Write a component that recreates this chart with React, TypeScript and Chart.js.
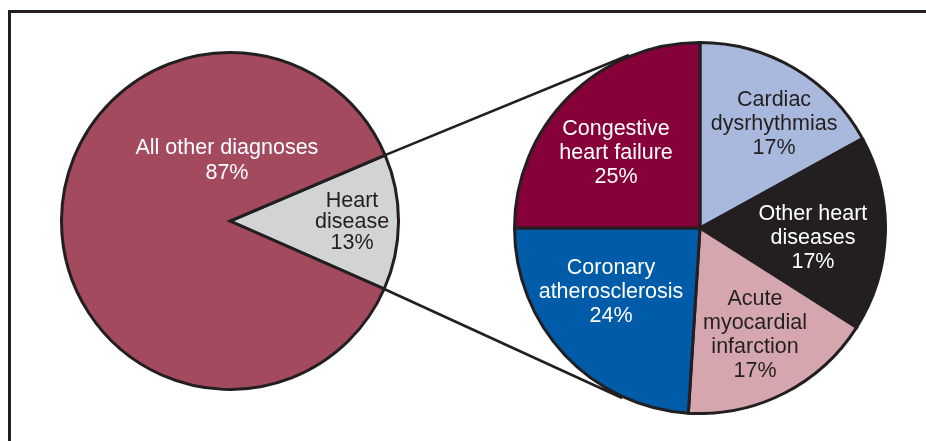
import React, { useEffect, useRef } from "react";
import { Chart, registerables } from "chart.js";

Chart.register(...registerables);

// ---- data ----
const leftCategories = ["Heart disease", "All other diagnoses"];
const leftValues = [13, 87];
const leftLabelLines = [["Heart", "disease"], ["All other diagnoses"]];

const rightCategories = [
  "Cardiac dysrhythmias",
  "Other heart diseases",
  "Acute myocardial infarction",
  "Coronary atherosclerosis",
  "Congestive heart failure",
];
const rightValues = [17, 17, 17, 24, 25];
const rightLabelLines = [
  ["Cardiac", "dysrhythmias"],
  ["Other heart", "diseases"],
  ["Acute", "myocardial", "infarction"],
  ["Coronary", "atherosclerosis"],
  ["Congestive", "heart failure"],
];

// ---- styles ----
const INK = "#231f20";
const leftColors = ["#d1d3d5", "#a34a5f"];
const leftTextColors = [INK, "#ffffff"];
const rightColors = ["#a9b9de", "#231f20", "#d6a6ae", "#005ba9", "#86003a"];
const rightTextColors = [INK, "#ffffff", INK, "#ffffff", "#ffffff"];
// label anchor offsets as fractions of the pie radius, plus line height
const leftLabelPlace = [
  { dx: 0.718, dy: 0.006, lh: 21 },
  { dx: -0.018, dy: -0.353, lh: 25 },
];
const rightLabelPlace = [
  { dx: 0.396, dy: -0.556, lh: 24 },
  { dx: 0.604, dy: 0.053, lh: 24 },
  { dx: 0.294, dy: 0.572, lh: 24 },
  { dx: -0.476, dy: 0.342, lh: 24 },
  { dx: -0.449, dy: -0.401, lh: 24 },
];
const FONT = '21.5px "Liberation Sans", Arial, Helvetica, sans-serif';
const BW = 3;

const LEFT_BOX = { x: 60, y: 51, size: 340 };
const RIGHT_BOX = { x: 513, y: 41, size: 374 };

function labelPlugin(lines: string[][], values: number[], place: any[], colors: string[]) {
  return {
    id: "sliceLabels",
    afterDatasetsDraw(chart: any) {
      const ctx = chart.ctx;
      const meta = chart.getDatasetMeta(0);
      ctx.save();
      ctx.font = FONT;
      ctx.textAlign = "center";
      ctx.textBaseline = "middle";
      meta.data.forEach((arc: any, i: number) => {
        const R = arc.outerRadius + BW / 2;
        const cx = arc.x + place[i].dx * R;
        const cy = arc.y + place[i].dy * R;
        const all = [...lines[i], values[i] + "%"];
        const lh = place[i].lh;
        const top = cy - ((all.length - 1) * lh) / 2;
        ctx.fillStyle = colors[i];
        all.forEach((t, k) => ctx.fillText(t, cx, top + k * lh));
      });
      ctx.restore();
    },
  };
}

function pieConfig(labels: string[], values: number[], colors: string[], rotation: number, plugin: any): any {
  return {
    type: "pie",
    data: {
      labels,
      datasets: [
        {
          data: values,
          backgroundColor: colors,
          borderColor: INK,
          borderWidth: BW,
          borderJoinStyle: "miter",
        },
      ],
    },
    options: {
      responsive: false,
      maintainAspectRatio: false,
      animation: false,
      events: [],
      rotation,
      layout: { padding: 0 },
      plugins: { legend: { display: false }, tooltip: { enabled: false } },
    },
    plugins: [plugin],
  };
}

function tangentPoint(px: number, py: number, cx: number, cy: number, r: number, sign: number) {
  const d = Math.hypot(px - cx, py - cy);
  const base = Math.atan2(py - cy, px - cx);
  const a = base + sign * Math.acos(Math.min(1, r / d));
  return { x: cx + r * Math.cos(a), y: cy + r * Math.sin(a) };
}

export default function App() {
  const leftRef = useRef<HTMLCanvasElement>(null);
  const rightRef = useRef<HTMLCanvasElement>(null);
  const overlayRef = useRef<HTMLCanvasElement>(null);

  useEffect(() => {
    const left = new Chart(
      leftRef.current!,
      pieConfig(leftCategories, leftValues, leftColors, 67, labelPlugin(leftLabelLines, leftValues, leftLabelPlace, leftTextColors))
    );
    const right = new Chart(
      rightRef.current!,
      pieConfig(rightCategories, rightValues, rightColors, 0, labelPlugin(rightLabelLines, rightValues, rightLabelPlace, rightTextColors))
    );

    const ov = overlayRef.current!;
    const ctx = ov.getContext("2d")!;
    ctx.clearRect(0, 0, ov.width, ov.height);
    const heart: any = left.getDatasetMeta(0).data[0];
    const lcx = LEFT_BOX.x + heart.x;
    const lcy = LEFT_BOX.y + heart.y;
    const lr = heart.outerRadius;
    const anyRight: any = right.getDatasetMeta(0).data[0];
    const rcx = RIGHT_BOX.x + anyRight.x;
    const rcy = RIGHT_BOX.y + anyRight.y;
    const rr = anyRight.outerRadius + BW / 2;
    const p1 = { x: lcx + lr * Math.cos(heart.startAngle), y: lcy + lr * Math.sin(heart.startAngle) };
    const p2 = { x: lcx + lr * Math.cos(heart.endAngle), y: lcy + lr * Math.sin(heart.endAngle) };
    const t1 = tangentPoint(p1.x, p1.y, rcx, rcy, rr, 1);
    const t2 = tangentPoint(p2.x, p2.y, rcx, rcy, rr, -1);
    ctx.strokeStyle = INK;
    ctx.lineWidth = 2.6;
    ctx.lineCap = "butt";
    ctx.beginPath();
    ctx.moveTo(p1.x, p1.y);
    ctx.lineTo(t1.x, t1.y);
    ctx.moveTo(p2.x, p2.y);
    ctx.lineTo(t2.x, t2.y);
    ctx.stroke();

    return () => {
      left.destroy();
      right.destroy();
    };
  }, []);

  return (
    <div
      style={{
        position: "fixed",
        left: 0,
        top: 0,
        width: 926,
        height: 441,
        overflow: "hidden",
        background: "#ffffff",
      }}
    >
      <div
        style={{
          position: "absolute",
          left: 8,
          top: 10,
          width: 2000,
          height: 2000,
          borderLeft: "3px solid " + INK,
          borderTop: "3px solid " + INK,
        }}
      />
      <canvas
        ref={leftRef}
        width={LEFT_BOX.size}
        height={LEFT_BOX.size}
        style={{ position: "absolute", left: LEFT_BOX.x, top: LEFT_BOX.y, width: LEFT_BOX.size, height: LEFT_BOX.size }}
      />
      <canvas
        ref={rightRef}
        width={RIGHT_BOX.size}
        height={RIGHT_BOX.size}
        style={{ position: "absolute", left: RIGHT_BOX.x, top: RIGHT_BOX.y, width: RIGHT_BOX.size, height: RIGHT_BOX.size }}
      />
      <canvas
        ref={overlayRef}
        width={926}
        height={441}
        style={{ position: "absolute", left: 0, top: 0, width: 926, height: 441, pointerEvents: "none" }}
      />
    </div>
  );
}
